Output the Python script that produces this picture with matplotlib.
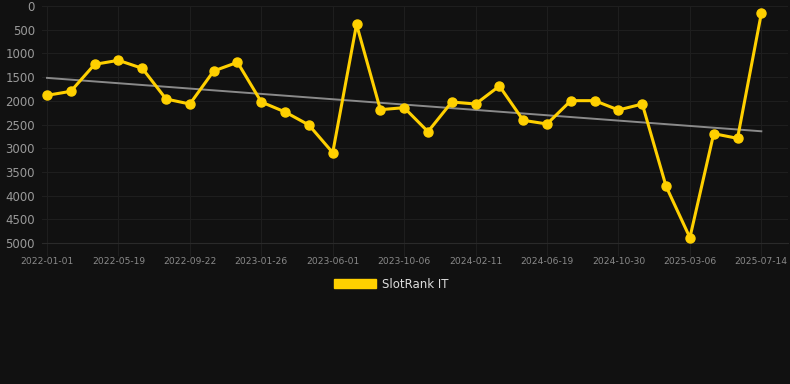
import numpy as np
import matplotlib
matplotlib.use("Agg")
import matplotlib.pyplot as plt
from matplotlib.patches import Patch

# rank values (lower = better, axis inverted)
ranks = [1885, 1800, 1231, 1146, 1315, 1962, 2068, 1371, 1188, 2025,
         2236, 2511, 3094, 387, 2187, 2145, 2651, 2025, 2068, 1688,
         2412, 2489, 1997, 1997, 2194, 2068, 3805, 4887, 2693, 2792,
         155]
date_labels = ["2022-01-01", "2022-05-19", "2022-09-22", "2023-01-26",
               "2023-06-01", "2023-10-06", "2024-02-11", "2024-06-19",
               "2024-10-30", "2025-03-06", "2025-07-14"]
y_ticks = [0, 500, 1000, 1500, 2000, 2500, 3000, 3500, 4000, 4500, 5000]
series_name = "SlotRank IT"

bg = "#111111"
gold = "#FFD000"
grid_c = "#1e1e1e"

x = np.arange(len(ranks))
fig = plt.figure(figsize=(7.9, 3.84), dpi=100, facecolor=bg)
ax = fig.add_axes([42 / 790, 141 / 384, 746 / 790, 237 / 384])
ax.set_facecolor(bg)

# trend line (least squares)
k, b = np.polyfit(x, ranks, 1)
ax.plot(x, k * x + b, color="#8a8a8a", lw=1.4, zorder=2)

ax.plot(x, ranks, color=gold, lw=2.2, marker="o", markersize=6.5,
        clip_on=False, zorder=3)

ax.set_xlim(-0.21, 31.12)
ax.set_ylim(5000, 0)
ax.set_yticks(y_ticks)
ax.set_xticks(x[::3])
ax.set_xticklabels(date_labels)
ax.tick_params(axis="y", colors="#9a9a9a", labelsize=8.5, length=0, pad=5)
ax.tick_params(axis="x", colors=grid_c, labelcolor="#8a8a8a", labelsize=6.6,
               length=9, width=0.8, pad=1)
ax.grid(True, color=grid_c, lw=0.8)
for s in ax.spines.values():
    s.set_visible(False)
ax.spines["bottom"].set_visible(True)
ax.spines["bottom"].set_color("#2a2a2a")

fig.legend(handles=[Patch(facecolor=gold, edgecolor=gold)], labels=[series_name],
           loc="center", bbox_to_anchor=(391 / 790, 1 - 284 / 384),
           frameon=False, handlelength=3.6, handleheight=0.9,
           labelcolor="#dddddd", fontsize=8.5, handletextpad=0.5)

fig.savefig("out.png", dpi=100, facecolor=bg)
